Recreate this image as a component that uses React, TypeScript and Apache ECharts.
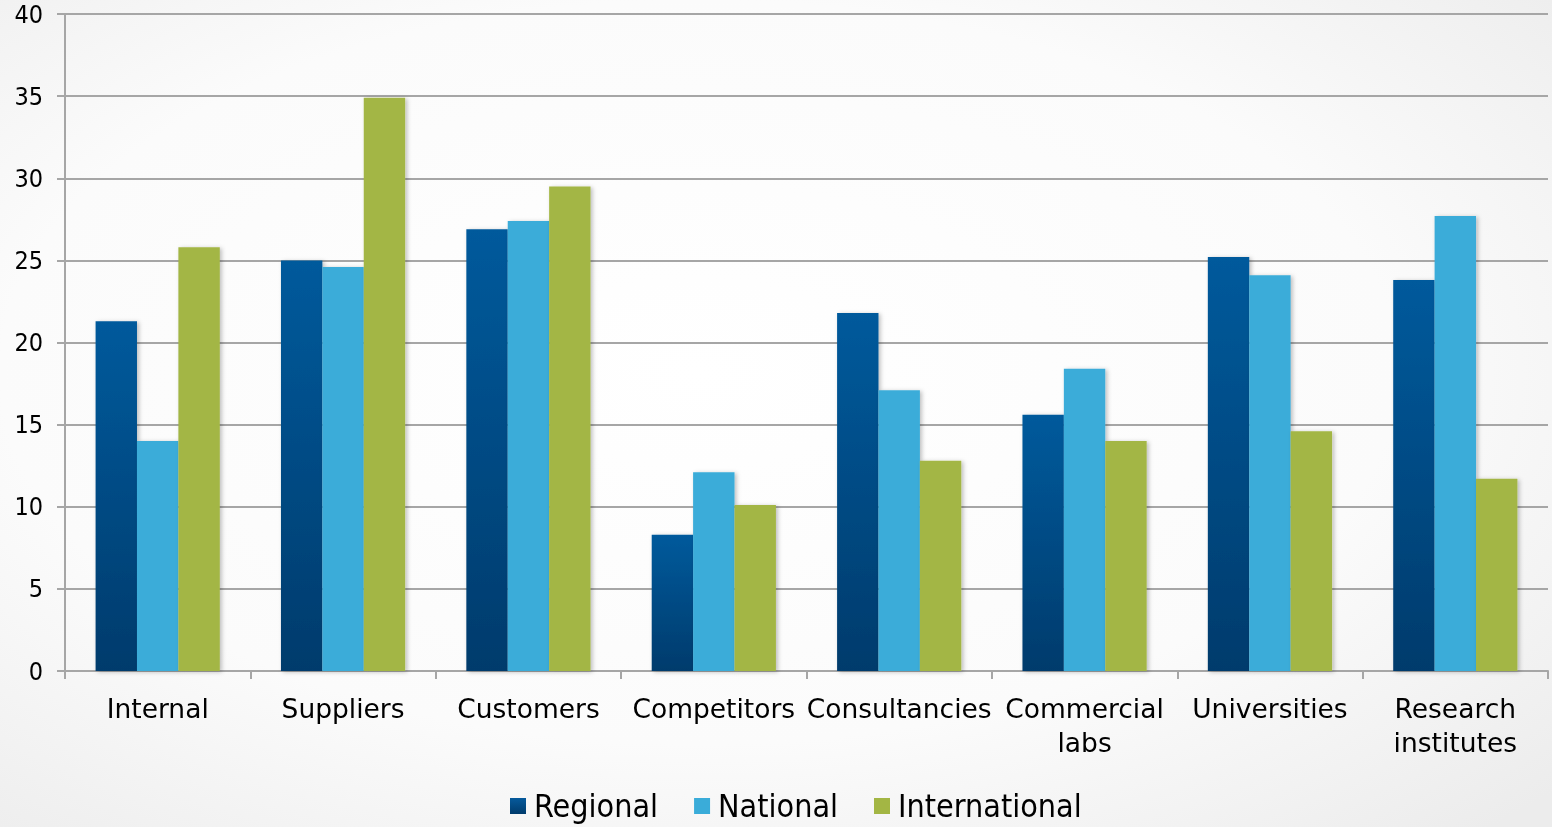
import React, { useEffect, useRef } from "react";
import * as echarts from "echarts";

const categories = [
  "Internal",
  "Suppliers",
  "Customers",
  "Competitors",
  "Consultancies",
  "Commercial\nlabs",
  "Universities",
  "Research\ninstitutes",
];
const regional = [21.3, 25.0, 26.9, 8.3, 21.8, 15.6, 25.2, 23.8];
const national = [14.0, 24.6, 27.4, 12.1, 17.1, 18.4, 24.1, 27.7];
const international = [25.8, 34.9, 29.5, 10.1, 12.8, 14.0, 14.6, 11.7];
const seriesNames = ["Regional", "National", "International"];
const yTicks = { min: 0, max: 40, interval: 5 };

const FONT_C = "'DejaVu Sans Condensed', 'DejaVu Sans', sans-serif";
const FONT = "'DejaVu Sans', sans-serif";

export default function App() {
  const ref = useRef<HTMLDivElement>(null);
  useEffect(() => {
    if (!ref.current) return;
    const chart = echarts.init(ref.current, null, { renderer: "svg" });
    const shadow = {
      shadowColor: "rgba(0,0,0,0.25)",
      shadowBlur: 4,
      shadowOffsetX: 2,
      shadowOffsetY: 1,
    };
    const regionalColor = new echarts.graphic.LinearGradient(0, 0, 0, 1, [
      { offset: 0, color: "#065a9c" },
      { offset: 1, color: "#003b6c" },
    ]);
    chart.setOption({
      animation: false,
      backgroundColor: new echarts.graphic.RadialGradient(0.45, 0.45, 0.75, [
        { offset: 0, color: "#ffffff" },
        { offset: 0.6, color: "#fbfbfb" },
        { offset: 1, color: "#ececec" },
      ]),
      textStyle: { fontFamily: FONT_C },
      grid: { left: 65, right: 4, top: 14, bottom: 156, containLabel: false },
      legend: {
        bottom: 0,
        left: 505,
        itemWidth: 16,
        itemHeight: 16,
        itemGap: 36,
        icon: "rect",
        textStyle: { fontSize: 32, color: "#000", fontFamily: FONT_C, padding: [0, 0, 0, 3] },
        data: seriesNames,
      },
      xAxis: {
        type: "category",
        data: categories,
        axisLine: { lineStyle: { color: "#a6a6a6", width: 2 } },
        axisTick: { show: true, length: 8, lineStyle: { color: "#a6a6a6", width: 2 } },
        axisLabel: {
          color: "#000",
          fontSize: 26.5,
          lineHeight: 34,
          margin: 20,
          interval: 0,
          fontFamily: FONT,
        },
      },
      yAxis: {
        type: "value",
        min: yTicks.min,
        max: yTicks.max,
        interval: yTicks.interval,
        axisLine: { show: true, lineStyle: { color: "#a6a6a6", width: 2 } },
        axisTick: { show: true, length: 8, lineStyle: { color: "#a6a6a6", width: 2 } },
        splitLine: { lineStyle: { color: "#a6a6a6", width: 2 } },
        axisLabel: { color: "#000", fontSize: 25, margin: 22, fontFamily: FONT_C },
      },
      series: [
        {
          name: seriesNames[0],
          type: "bar",
          data: regional,
          barGap: "0%",
          barCategoryGap: "33%",
          itemStyle: { color: regionalColor, ...shadow },
        },
        {
          name: seriesNames[1],
          type: "bar",
          data: national,
          barGap: "0%",
          barCategoryGap: "33%",
          itemStyle: { color: "#3aacd9", ...shadow },
        },
        {
          name: seriesNames[2],
          type: "bar",
          data: international,
          barGap: "0%",
          barCategoryGap: "33%",
          itemStyle: { color: "#a3b644", ...shadow },
        },
      ],
    });
    return () => chart.dispose();
  }, []);
  return (
    <div
      ref={ref}
      style={{ position: "fixed", left: 0, top: 0, width: 1552, height: 827 }}
    />
  );
}
